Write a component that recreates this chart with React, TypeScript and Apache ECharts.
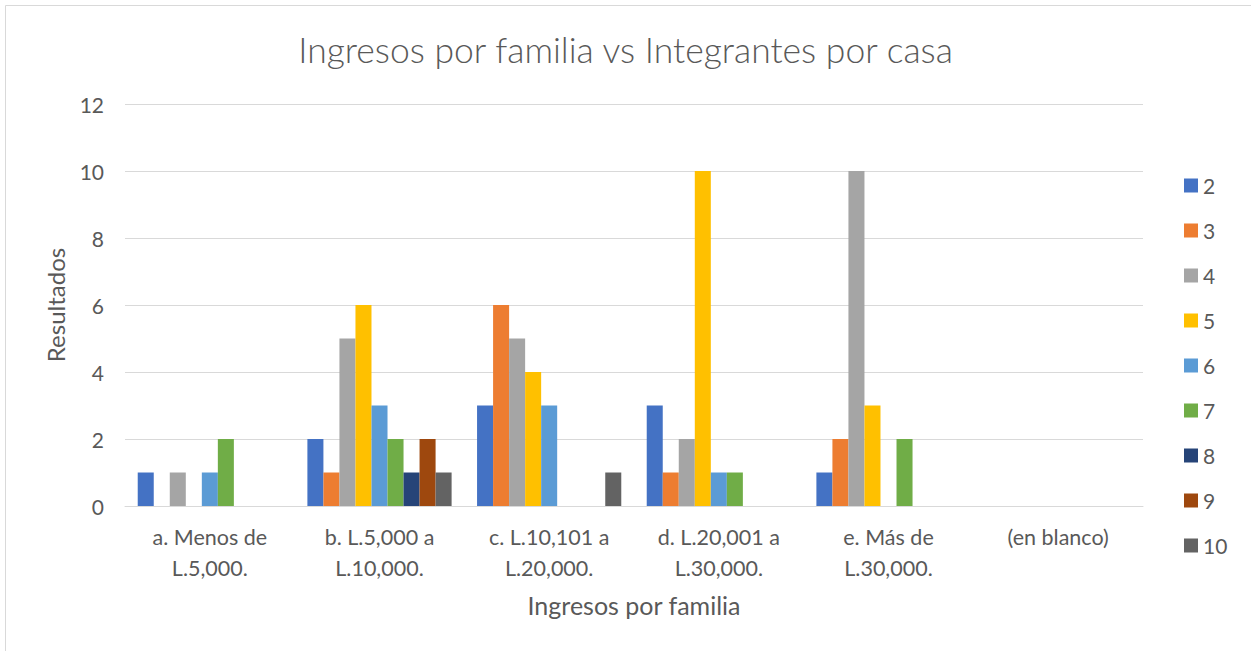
import React, { useEffect, useRef } from "react";
import * as echarts from "echarts";

const categories = [
  "a. Menos de\nL.5,000.",
  "b. L.5,000 a\nL.10,000.",
  "c. L.10,101 a\nL.20,000.",
  "d. L.20,001 a\nL.30,000.",
  "e. Más de\nL.30,000.",
  "(en blanco)",
];
const seriesNames = ["2", "3", "4", "5", "6", "7", "8", "9", "10"];
const colors = ["#4472C4", "#ED7D31", "#A5A5A5", "#FFC000", "#5B9BD5", "#70AD47", "#264478", "#9E480E", "#636363"];
const s2 = [1, 2, 3, 3, 1, null];
const s3 = [null, 1, 6, 1, 2, null];
const s4 = [1, 5, 5, 2, 10, null];
const s5 = [null, 6, 4, 10, 3, null];
const s6 = [1, 3, 3, 1, null, null];
const s7 = [2, 2, null, 1, 2, null];
const s8 = [null, 1, null, null, null, null];
const s9 = [null, 2, null, null, null, null];
const s10 = [null, 1, 1, null, null, null];
const seriesValues = [s2, s3, s4, s5, s6, s7, s8, s9, s10];
const yTicks = { min: 0, max: 12, interval: 2 };

export default function App() {
  const ref = useRef<HTMLDivElement>(null);
  useEffect(() => {
    const chart = echarts.init(ref.current!, null, { renderer: "svg" });
    const font = "Lato, 'Open Sans', sans-serif";
    chart.setOption({
      animation: false,
      backgroundColor: "#ffffff",
      textStyle: { fontFamily: font },
      title: {
        text: "Ingresos por familia vs Integrantes por casa",
        left: "center",
        top: 26,
        textStyle: { fontFamily: font, fontWeight: 300, fontSize: 35.5, color: "#595959" },
      },
      graphic: [
        {
          type: "rect",
          shape: { x: 5.5, y: 5.5, width: 1400, height: 800 },
          style: { fill: "none", stroke: "#d9d9d9", lineWidth: 1 },
          silent: true,
        },
      ],
      legend: {
        orient: "vertical",
        left: 1179,
        top: 170,
        itemWidth: 14,
        itemHeight: 14,
        itemGap: 24,
        icon: "rect",
        textStyle: { fontFamily: font, fontSize: 21, color: "#595959", lineHeight: 21 },
        data: seriesNames,
      },
      grid: { left: 125, right: 108, top: 104, bottom: 145, containLabel: false },
      xAxis: {
        type: "category",
        data: categories,
        name: "Ingresos por familia",
        nameLocation: "middle",
        nameGap: 86,
        nameTextStyle: { fontFamily: font, fontSize: 25, color: "#595959" },
        axisLine: { lineStyle: { color: "#d9d9d9", width: 1 } },
        axisTick: { show: false },
        axisLabel: { fontFamily: font, fontSize: 21.5, color: "#595959", lineHeight: 31, margin: 15, interval: 0 },
      },
      yAxis: {
        type: "value",
        min: yTicks.min,
        max: yTicks.max,
        interval: yTicks.interval,
        name: "Resultados",
        nameLocation: "middle",
        nameGap: 58,
        nameTextStyle: { fontFamily: font, fontSize: 24, color: "#595959" },
        axisLine: { show: false },
        axisTick: { show: false },
        axisLabel: { fontFamily: font, fontSize: 21, color: "#595959", margin: 21 },
        splitLine: { lineStyle: { color: "#d9d9d9", width: 1 } },
      },
      series: seriesNames.map((n, i) => ({
        name: n,
        type: "bar",
        data: seriesValues[i],
        barGap: "0%",
        barCategoryGap: "15%",
        itemStyle: { color: colors[i] },
      })),
    });
    return () => chart.dispose();
  }, []);
  return <div ref={ref} style={{ position: "fixed", left: 0, top: 0, width: 1251, height: 651 }} />;
}
